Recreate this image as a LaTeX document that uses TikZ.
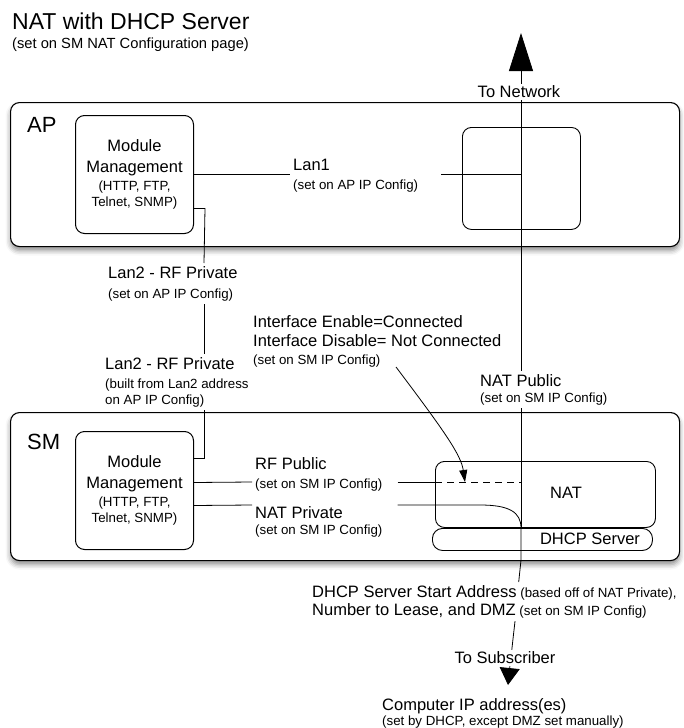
\documentclass[tikz,border=0pt]{standalone}
\usepackage{fontspec}
\setmainfont{Liberation Sans}
\usetikzlibrary{arrows.meta,positioning,shadows.blur}

\newcommand{\titlesz}{\fontsize{23}{27}\selectfont}
\newcommand{\boxsz}{\fontsize{22}{26}\selectfont}
\newcommand{\mainsz}{\fontsize{16.5}{19}\selectfont}
\newcommand{\subsz}{\fontsize{13.3}{16}\selectfont}

\begin{document}
\begin{tikzpicture}[
  x=1pt, y=-1pt,
  unit/.style={draw, line width=1.1pt, rounded corners=9pt, fill=white, anchor=north west,
    blur shadow={shadow xshift=0pt, shadow yshift=-4pt, shadow blur radius=5pt, shadow opacity=45}},
  modbox/.style={draw, line width=1pt, rounded corners=9pt, fill=white, anchor=north west,
    align=center, font=\subsz, inner sep=0pt, minimum width=118, minimum height=118},
  part/.style={draw, line width=0.9pt, rounded corners=9pt, anchor=north west, inner sep=0pt},
  tag/.style={anchor=west, inner sep=0pt, font=\boxsz},
  lbl/.style={anchor=north west, align=left, fill=white, font=\subsz, inner xsep=3pt, inner ysep=3pt},
  word/.style={fill=white, font=\mainsz, inner sep=2pt},
  wire/.style={line width=0.8pt},
  bigup/.style={wire, -{Triangle[width=24pt, length=38pt]}},
  smalldown/.style={wire, -{Triangle[width=20pt, length=17pt]}},
  pointer/.style={wire, -{Triangle[width=8pt, length=12pt]}}
]
\useasboundingbox (0,0) rectangle (684,728);

% heading
\node[anchor=west, inner sep=0pt, font=\titlesz] (title) at (12,21) {NAT with DHCP Server};
\node[anchor=west, inner sep=0pt, font=\fontsize{14.7}{17}\selectfont] (subtitle) at (12,45) {(set on SM NAT Configuration page)};

% the two units
\node[unit, minimum width=669, minimum height=144] (ap) at (10,102) {};
\node[unit, minimum width=669, minimum height=148] (sm) at (10,412) {};
\node[tag] (aptag) at (27,125) {AP};
\node[tag] (smtag) at (27,442) {SM};

\node[modbox] (apmod) at (75,115) {{\mainsz Module}\\[5pt]{\mainsz Management}\\[2pt](HTTP, FTP,\\Telnet, SNMP)};
\node[modbox] (smmod) at (75,431) {{\mainsz Module}\\[5pt]{\mainsz Management}\\[2pt](HTTP, FTP,\\Telnet, SNMP)};

\node[part, minimum width=118, minimum height=102] (aprt) at (462,127) {};
\node[part, minimum width=220, minimum height=66] (natbox) at (435,461) {};
\node[part, minimum width=220, minimum height=22, rounded corners=10pt] (dhcpbox) at (432,528) {};
\node[font=\mainsz, inner sep=0pt] (nattxt) at (566,493) {NAT};
\node[font=\mainsz, inner sep=0pt] (dhcptxt) at (590,539) {DHCP Server};

% labels
\node[word] (tonet) at (519,92) {To Network};
\node[lbl] (lanone) at (290,156) {{\mainsz Lan1}\\[3pt](set on AP IP Config)};
\node[lbl] (lantwoap) at (105,263) {{\mainsz Lan2 - RF Private}\\[4pt](set on AP IP Config)};
\node[lbl] (lantwosm) at (102,354) {{\mainsz Lan2 - RF Private}\\[3pt](built from Lan2 address\\on AP IP Config)};
\node[lbl] (iface) at (250,312) {{\mainsz Interface Enable=Connected}\\[3pt]{\mainsz Interface Disable= Not Connected}\\[2pt](set on SM IP Config)};
\node[lbl] (natpub) at (477,371) {{\mainsz NAT Public}\\[0pt](set on SM IP Config)};
\node[lbl] (rfpub) at (252,454) {{\mainsz RF Public}\\[3pt](set on SM IP Config)};
\node[lbl] (natpriv) at (252,503) {{\mainsz NAT Private}\\[0pt](set on SM IP Config)};
\node[lbl] (dhcpstart) at (309,582) {{\mainsz DHCP Server Start Address} (based off of NAT Private),\\[2pt]{\mainsz Number to Lease, and DMZ} (set on SM IP Config)};
\node[word] (tosub) at (505,658) {To Subscriber};
\node[lbl] (computer) at (379,695) {{\mainsz Computer IP address(es)}\\[-1pt](set by DHCP, except DMZ set manually)};

% wires
\coordinate (nettip) at (521,33);
\coordinate (natjoin) at (521,528);
\coordinate (subtip) at (508,685);
\coordinate (ifacefrom) at (396,367);
\coordinate (dashmark) at (465,482);

\draw[bigup] (tonet.north -| nettip) -- (nettip);
\draw[wire] (tonet.south -| nettip) -- (natpub.north -| nettip);
\draw[wire] (natpub.south -| nettip) -- (natjoin);
\draw[wire] (natjoin) -- (521,560) -- (dhcpstart.north -| 518.7,0);
\draw[wire] (dhcpstart.south -| 515,0) -- (tosub.north -| 511.8,0);
\draw[smalldown] (tosub.south -| 509.9,0) -- (subtip);
\draw[wire] (apmod.east) -- (lanone.west |- apmod.east);
\draw[wire] ([xshift=20pt]lanone.east |- apmod.east) -- (apmod.east -| nettip);
\draw[wire] ([yshift=-34pt]apmod.east) -- ++(11,0) -- (lantwoap.north -| 204,0);
\draw[wire] (lantwoap.south -| 204,0) -- (lantwosm.north -| 204,0);
\draw[wire] (lantwosm.south -| 204,0) |- ([yshift=32pt]smmod.east);
\draw[wire] ([yshift=8pt]smmod.east) -- (rfpub.west |- 0,482);
\draw[wire] ([xshift=12pt]rfpub.east |- 0,482) -- (natbox.west |- 0,482);
\draw[wire, dash pattern=on 7pt off 5pt] (natbox.west |- 0,482) -- (nettip |- 0,482);
\draw[wire] ([yshift=-15pt]smmod.east) -- (natpriv.west |- 0,505);
\draw[wire] ([xshift=12pt]natpriv.east |- 0,505) -- (480,505) .. controls (509,505) and (521,512) .. (natjoin);
\draw[pointer] (ifacefrom) .. controls (445,432) and (461,455) .. (dashmark);

\end{tikzpicture}
\end{document}
